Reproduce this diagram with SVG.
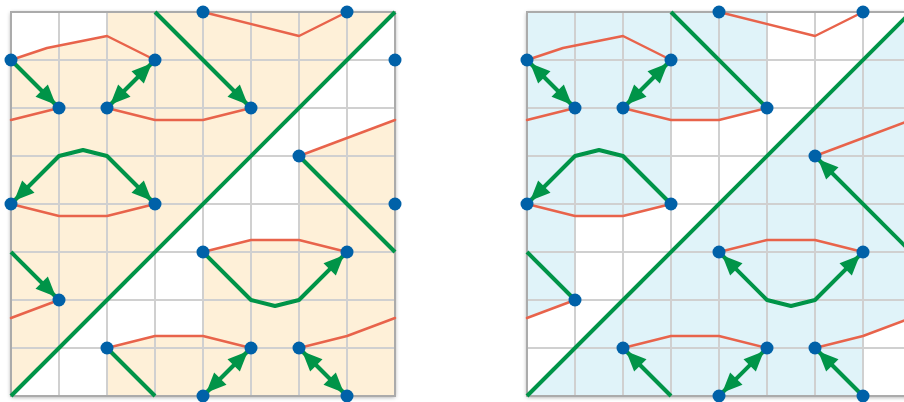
<svg xmlns="http://www.w3.org/2000/svg" width="904" height="402" viewBox="0 0 904 402">
<style>
.bg{fill:#ffffff;stroke:none}
.cream{fill:#FEF0D8;stroke:none}
.sky{fill:#E0F3F9;stroke:none}
.wh{fill:#ffffff;stroke:none}
.grid line{stroke:#D0D0D0;stroke-width:2}
.frame{fill:none;stroke:#ABABAB;stroke-width:2}
.red{fill:none;stroke:#E8634B;stroke-width:2.5;stroke-linejoin:round;stroke-linecap:round}
.grn{fill:none;stroke:#009448;stroke-width:4;stroke-linejoin:round}
.end{marker-end:url(#ah)}
.both{marker-start:url(#ah);marker-end:url(#ah)}
.nd{fill:#0061A8}
</style>
<defs>
<filter id="sh" x="-5%" y="-5%" width="110%" height="110%">
<feDropShadow dx="0" dy="1" stdDeviation="2" flood-color="#000000" flood-opacity="0.4"/>
</filter>
<marker id="ah" markerUnits="userSpaceOnUse" markerWidth="30" markerHeight="24" refX="24.5" refY="8.75" orient="auto-start-reverse" overflow="visible">
<path d="M0,0 L20,8.75 L0,17.5 Z" fill="#009448"/>
</marker>
</defs>

<!-- LEFT PANEL -->
<g id="left-panel">
<g id="L-background">
<rect class="bg" x="11" y="12" width="384" height="384" filter="url(#sh)"/>
<rect class="cream" x="11" y="12" width="384" height="384"/>
<polygon class="wh" points="11,12 107,12 107,36 47,48 11,60"/>
<polygon class="wh" points="395,12 11,396 107,396 107,348 155,336 203,336 203,252 251,240 299,240 299,156 395,120"/>
</g>
<g class="grid">
<line x1="59" y1="12" x2="59" y2="396"/><line x1="107" y1="12" x2="107" y2="396"/><line x1="155" y1="12" x2="155" y2="396"/><line x1="203" y1="12" x2="203" y2="396"/><line x1="251" y1="12" x2="251" y2="396"/><line x1="299" y1="12" x2="299" y2="396"/><line x1="347" y1="12" x2="347" y2="396"/>
<line x1="11" y1="60" x2="395" y2="60"/><line x1="11" y1="108" x2="395" y2="108"/><line x1="11" y1="156" x2="395" y2="156"/><line x1="11" y1="204" x2="395" y2="204"/><line x1="11" y1="252" x2="395" y2="252"/><line x1="11" y1="300" x2="395" y2="300"/><line x1="11" y1="348" x2="395" y2="348"/>
</g>
<rect class="frame" x="11" y="12" width="384" height="384"/>
<g id="L-connectors">
<polyline class="red" points="11,60 47,48 107,36 155,60"/>
<polyline class="red" points="11,120 59,108"/>
<polyline class="red" points="107,108 155,120 203,120 251,108"/>
<polyline class="red" points="203,12 299,36 347,12"/>
<polyline class="red" points="299,156 395,120"/>
<polyline class="red" points="11,204 59,216 107,216 155,204"/>
<polyline class="red" points="11,318 59,300"/>
<polyline class="red" points="107,348 155,336 203,336 251,348"/>
<polyline class="red" points="203,252 251,240 299,240 347,252"/>
<polyline class="red" points="299,348 347,336 395,318"/>
<line class="grn" x1="11" y1="396" x2="395" y2="12"/>
<polyline class="grn end" points="155,12 251,108"/>
<polyline class="grn end" points="11,60 59,108"/>
<polyline class="grn both" points="155,60 107,108"/>
<polyline class="grn both" points="11,204 59,156 83,150 107,156 155,204"/>
<polyline class="grn" points="299,156 395,252"/>
<polyline class="grn end" points="11,252 59,300"/>
<polyline class="grn" points="107,348 155,396"/>
<polyline class="grn end" points="203,252 251,300 275,306 299,300 347,252"/>
<polyline class="grn both" points="251,348 203,396"/>
<polyline class="grn both" points="299,348 347,396"/>
</g>
<g id="L-n1"><circle class="nd" cx="203" cy="12" r="6.5"/></g>
<g id="L-n2"><circle class="nd" cx="347" cy="12" r="6.5"/></g>
<g id="L-n3"><circle class="nd" cx="11" cy="60" r="6.5"/></g>
<g id="L-n4"><circle class="nd" cx="155" cy="60" r="6.5"/></g>
<g id="L-n5"><circle class="nd" cx="395" cy="60" r="6.5"/></g>
<g id="L-n6"><circle class="nd" cx="59" cy="108" r="6.5"/></g>
<g id="L-n7"><circle class="nd" cx="107" cy="108" r="6.5"/></g>
<g id="L-n8"><circle class="nd" cx="251" cy="108" r="6.5"/></g>
<g id="L-n9"><circle class="nd" cx="299" cy="156" r="6.5"/></g>
<g id="L-n10"><circle class="nd" cx="11" cy="204" r="6.5"/></g>
<g id="L-n11"><circle class="nd" cx="155" cy="204" r="6.5"/></g>
<g id="L-n12"><circle class="nd" cx="395" cy="204" r="6.5"/></g>
<g id="L-n13"><circle class="nd" cx="203" cy="252" r="6.5"/></g>
<g id="L-n14"><circle class="nd" cx="347" cy="252" r="6.5"/></g>
<g id="L-n15"><circle class="nd" cx="59" cy="300" r="6.5"/></g>
<g id="L-n16"><circle class="nd" cx="107" cy="348" r="6.5"/></g>
<g id="L-n17"><circle class="nd" cx="251" cy="348" r="6.5"/></g>
<g id="L-n18"><circle class="nd" cx="299" cy="348" r="6.5"/></g>
<g id="L-n19"><circle class="nd" cx="203" cy="396" r="6.5"/></g>
<g id="L-n20"><circle class="nd" cx="347" cy="396" r="6.5"/></g>
</g>

<!-- RIGHT PANEL -->
<g id="right-panel" transform="translate(516,0)">
<g id="R-background">
<rect class="bg" x="11" y="12" width="384" height="384" filter="url(#sh)"/>
<rect class="sky" x="11" y="12" width="384" height="384"/>
<polygon class="wh" points="11,396 11,318 59,300 59,216 107,216 155,204 155,120 203,120 251,108 251,12 395,12"/>
<polygon class="wh" points="347,336 395,318 395,396 347,396"/>
</g>
<g class="grid">
<line x1="59" y1="12" x2="59" y2="396"/><line x1="107" y1="12" x2="107" y2="396"/><line x1="155" y1="12" x2="155" y2="396"/><line x1="203" y1="12" x2="203" y2="396"/><line x1="251" y1="12" x2="251" y2="396"/><line x1="299" y1="12" x2="299" y2="396"/><line x1="347" y1="12" x2="347" y2="396"/>
<line x1="11" y1="60" x2="395" y2="60"/><line x1="11" y1="108" x2="395" y2="108"/><line x1="11" y1="156" x2="395" y2="156"/><line x1="11" y1="204" x2="395" y2="204"/><line x1="11" y1="252" x2="395" y2="252"/><line x1="11" y1="300" x2="395" y2="300"/><line x1="11" y1="348" x2="395" y2="348"/>
</g>
<rect class="frame" x="11" y="12" width="384" height="384"/>
<g id="R-connectors">
<polyline class="red" points="11,60 47,48 107,36 155,60"/>
<polyline class="red" points="11,120 59,108"/>
<polyline class="red" points="107,108 155,120 203,120 251,108"/>
<polyline class="red" points="203,12 299,36 347,12"/>
<polyline class="red" points="299,156 395,120"/>
<polyline class="red" points="11,204 59,216 107,216 155,204"/>
<polyline class="red" points="11,318 59,300"/>
<polyline class="red" points="107,348 155,336 203,336 251,348"/>
<polyline class="red" points="203,252 251,240 299,240 347,252"/>
<polyline class="red" points="299,348 347,336 395,318"/>
<line class="grn" x1="11" y1="396" x2="395" y2="12"/>
<polyline class="grn" points="155,12 251,108"/>
<polyline class="grn both" points="11,60 59,108"/>
<polyline class="grn both" points="155,60 107,108"/>
<polyline class="grn end" points="155,204 107,156 83,150 59,156 11,204"/>
<polyline class="grn end" points="395,252 299,156"/>
<polyline class="grn" points="11,252 59,300"/>
<polyline class="grn end" points="155,396 107,348"/>
<polyline class="grn both" points="203,252 251,300 275,306 299,300 347,252"/>
<polyline class="grn both" points="251,348 203,396"/>
<polyline class="grn end" points="347,396 299,348"/>
</g>
<g id="R-n1"><circle class="nd" cx="203" cy="12" r="6.5"/></g>
<g id="R-n2"><circle class="nd" cx="347" cy="12" r="6.5"/></g>
<g id="R-n3"><circle class="nd" cx="11" cy="60" r="6.5"/></g>
<g id="R-n4"><circle class="nd" cx="155" cy="60" r="6.5"/></g>
<g id="R-n5"><circle class="nd" cx="395" cy="60" r="6.5"/></g>
<g id="R-n6"><circle class="nd" cx="59" cy="108" r="6.5"/></g>
<g id="R-n7"><circle class="nd" cx="107" cy="108" r="6.5"/></g>
<g id="R-n8"><circle class="nd" cx="251" cy="108" r="6.5"/></g>
<g id="R-n9"><circle class="nd" cx="299" cy="156" r="6.5"/></g>
<g id="R-n10"><circle class="nd" cx="11" cy="204" r="6.5"/></g>
<g id="R-n11"><circle class="nd" cx="155" cy="204" r="6.5"/></g>
<g id="R-n12"><circle class="nd" cx="395" cy="204" r="6.5"/></g>
<g id="R-n13"><circle class="nd" cx="203" cy="252" r="6.5"/></g>
<g id="R-n14"><circle class="nd" cx="347" cy="252" r="6.5"/></g>
<g id="R-n15"><circle class="nd" cx="59" cy="300" r="6.5"/></g>
<g id="R-n16"><circle class="nd" cx="107" cy="348" r="6.5"/></g>
<g id="R-n17"><circle class="nd" cx="251" cy="348" r="6.5"/></g>
<g id="R-n18"><circle class="nd" cx="299" cy="348" r="6.5"/></g>
<g id="R-n19"><circle class="nd" cx="203" cy="396" r="6.5"/></g>
<g id="R-n20"><circle class="nd" cx="347" cy="396" r="6.5"/></g>
</g>
</svg>
